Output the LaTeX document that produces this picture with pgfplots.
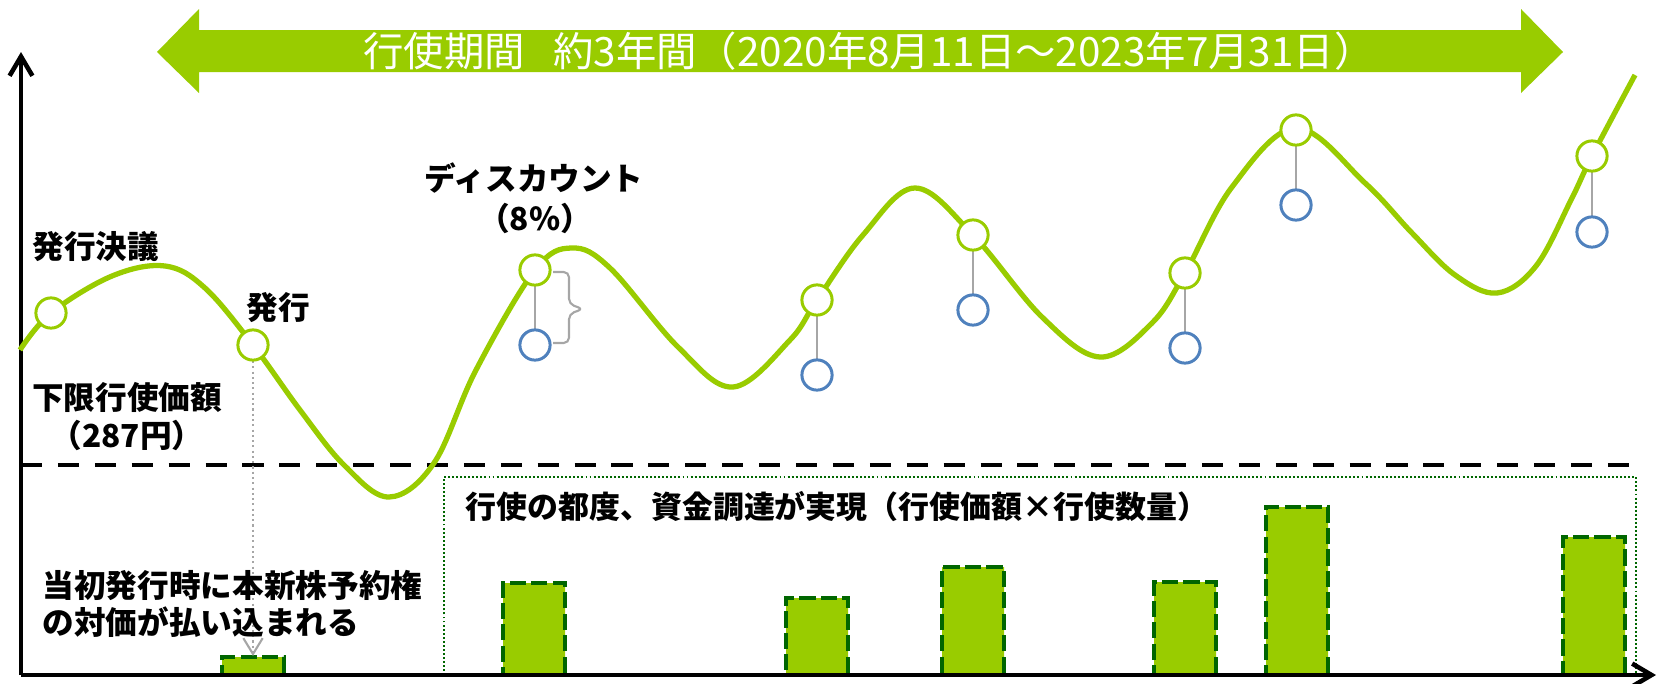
\documentclass[border=0pt]{standalone}
\usepackage{fontspec}
\usepackage{pgfplots}
\pgfplotsset{compat=1.18}
\usetikzlibrary{arrows.meta}
\newfontfamily\jp{Noto Sans CJK JP}
\definecolor{lgreen}{HTML}{99CC00}
\definecolor{dgreen}{HTML}{006600}
\definecolor{cblue}{HTML}{4F81BD}
\definecolor{cgray}{HTML}{A6A6A6}
\begin{document}
\begin{tikzpicture}
\begin{axis}[
  width=16.6cm, height=6.83cm, scale only axis,
  xmin=0, xmax=1660, ymin=-8, ymax=675,
  hide axis, clip=false,
]
% top double arrow
\addplot[fill=lgreen, draw=none] coordinates {
 (157,623) (199,666) (199,645) (1521,645) (1521,666) (1563,623)
 (1521,582) (1521,603) (199,603) (199,582)} --cycle;
\node[text=white, font=\jp\fontsize{11.5}{12}\selectfont] at (axis cs:869,624)
 {行使期間\hspace{0.7em}約3年間（2020年8月11日～2023年7月31日）};
% dotted box
\draw[dgreen, line width=0.55pt, dash pattern=on 0.55pt off 0.6pt]
 (axis cs:444,0) -- (axis cs:444,198) -- (axis cs:1636,198) -- (axis cs:1636,0);
% bars
\addplot[ybar, bar width=62, bar shift=0pt, fill=lgreen, draw=dgreen,
  line width=1.3pt, dash pattern=on 4.6pt off 1.5pt] coordinates {
 (253,18) (534,92) (817,77) (973,108) (1185,93) (1297,168) (1594,138)};
% axes
\draw[line width=1.3pt, -{Straight Barb[length=5.5pt,width=6.5pt]}]
 (axis cs:21,0) -- (axis cs:21,623);
\draw[line width=1.3pt, -{Straight Barb[length=5.5pt,width=6.5pt]}]
 (axis cs:21,0) -- (axis cs:1656,0);
% dashed floor line
\addplot[black, line width=1.4pt, dash pattern=on 6pt off 4.5pt] coordinates {(21,210) (1640,210)};
% dotted grey arrow
\draw[cgray, line width=0.6pt, dash pattern=on 0.6pt off 0.9pt,
  -{Straight Barb[length=4.5pt,width=5.5pt,line width=0.6pt]}]
 (axis cs:253,314) -- (axis cs:253,19);
% price curve
\addplot[lgreen, line width=1.5pt, smooth, tension=0.6] coordinates {
 (20,325) (51,362) (112,399) (165,409) (205,387) (253,330) (300,265)
 (344,210) (389,178) (434,212) (476,305) (535,405) (572,427) (610,407)
 (678,328) (733,288) (790,335) (817,375) (863,440) (915,487) (973,440)
 (1042,358) (1100,318) (1152,352) (1185,402) (1232,488) (1296,547)
 (1365,492) (1412,442) (1455,400) (1497,382) (1536,409) (1571,475)
 (1592,519) (1635,600)};
% connectors
\addplot[cgray, line width=0.6pt, unbounded coords=jump] coordinates {
 (535,390) (535,345) (535,nan)
 (817,360) (817,315) (817,nan)
 (973,425) (973,380) (973,nan)
 (1185,387) (1185,342) (1185,nan)
 (1296,530) (1296,485) (1296,nan)
 (1592,504) (1592,458)};
% brace
\draw[cgray, line width=0.6pt, rounded corners=1.5pt]
 (axis cs:553,403) -- (axis cs:569,403) -- (axis cs:569,371)
 -- (axis cs:583,366) -- (axis cs:569,361) -- (axis cs:569,332) -- (axis cs:553,332);
% green circles
\addplot[only marks, mark=*, mark size=4.3pt,
  mark options={fill=white, draw=lgreen, line width=0.85pt}] coordinates {
 (51,362) (253,330) (535,405) (817,375) (973,440) (1185,402) (1296,545) (1592,519)};
% blue circles
\addplot[only marks, mark=*, mark size=4.3pt,
  mark options={fill=white, draw=cblue, line width=0.85pt}] coordinates {
 (535,330) (817,300) (973,365) (1185,327) (1296,470) (1592,443)};
% labels
\tikzset{lab/.style={font=\jp\bfseries\fontsize{9}{10}\selectfont, inner sep=0pt}}
\node[lab, anchor=west] at (axis cs:32,428) {発行決議};
\node[lab, anchor=west] at (axis cs:246,367) {発行};
\node[lab] at (axis cs:534,497) {ディスカウント};
\node[lab] at (axis cs:535,457) {（8\%）};
\node[lab] at (axis cs:127,278) {下限行使価額};
\node[lab] at (axis cs:127,240) {（287円）};
\node[lab, anchor=west] at (axis cs:42,90) {当初発行時に本新株予約権};
\node[lab, anchor=west] at (axis cs:42,53) {の対価が払い込まれる};
\node[lab, anchor=west, font=\jp\bfseries\fontsize{8.8}{10}\selectfont] at (axis cs:465,168) {行使の都度、資金調達が実現（行使価額×行使数量）};
\end{axis}
\pgfresetboundingbox
\path (current axis.south west) rectangle (current axis.north east);
\end{tikzpicture}
\end{document}
